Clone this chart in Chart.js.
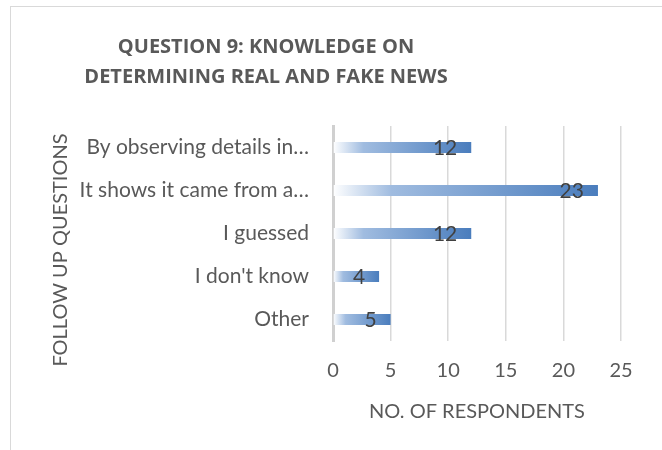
<!DOCTYPE html>
<html lang="en">
    <head>
        <meta charset="UTF-8" />
        <title>Question 9</title>
        <script src="https://cdn.jsdelivr.net/npm/chart.js@4"></script>
        <style>
            body { margin: 0; background: #fff; }
        </style>
    </head>
    <body>
        <canvas id="mychart" width="662" height="450"></canvas>
        <script>
            const categories = ["By observing details in…", "It shows it came from a…", "I guessed", "I don't know", "Other"];
            const respondents = [12, 23, 12, 4, 5];
            const xTicks = [0, 5, 10, 15, 20, 25];

            const titleLines = ["QUESTION 9: KNOWLEDGE ON", "DETERMINING REAL AND FAKE NEWS"];
            const yTitle = "FOLLOW UP QUESTIONS";
            const FONT = "Lato, sans-serif";

            const ctx = document.getElementById("mychart").getContext("2d");

            function barGradient(context)  {
                const chart = context.chart;
                const x = chart.scales.x;
                if (!x || context.dataIndex === undefined) return '#4a7dbd';
                const x0 = x.getPixelForValue(0);
                const x1 = x.getPixelForValue(respondents[context.dataIndex]);
                if (!isFinite(x0) || !isFinite(x1) || x1 === x0) return '#4a7dbd';
                const g = chart.ctx.createLinearGradient(x0, 0, x1, 0);
                g.addColorStop(0, '#ffffff');
                g.addColorStop(0.22, '#a0bce0');
                g.addColorStop(1, '#4a7dbd');
                return g;
            }

            // frame, title, y title and value labels drawn by hand, Excel style
            const decor = {
                id: 'decor',
                beforeDraw(chart)  {
                    const c = chart.ctx;
                    c.save();
                    c.strokeStyle = '#d9d9d9';
                    c.lineWidth = 1;
                    c.strokeRect(10.5, 6.5, 700, 500);
                    c.fillStyle = '#595959';
                    c.font = "bold 20px 'Open Sans', sans-serif";
                    c.textAlign = 'center';
                    c.textBaseline = 'middle';
                    titleLines.forEach((t, i) => c.fillText(t, 266, 47 + i * 30));

                    c.font = "20px " + FONT;
                    c.translate(61, 250);
                    c.rotate(-Math.PI / 2);
                    c.fillText(yTitle, 0, 0);
                    c.restore();
                },
                afterDatasetsDraw(chart)  {
                    const c = chart.ctx;
                    const meta = chart.getDatasetMeta(0);
                    c.save();
                    c.fillStyle = '#404040';
                    c.font = "21px " + FONT;
                    c.textAlign = 'right';
                    c.textBaseline = 'middle';
                    meta.data.forEach((bar, i) =>  {
                        c.fillText(respondents[i], bar.x - 14, bar.y + 1);
                    });
                    c.restore();
                }
            };

            new Chart(ctx, {
                type: 'bar',
                data: {
                    labels: categories,
                    datasets: [
                        {
                            label: "Respondents",
                            data: respondents,
                            backgroundColor: barGradient,
                            borderWidth: 0,
                            categoryPercentage: 1,
                            barPercentage: 0.26
                        }
                    ]
                },
                options: {
                    indexAxis: 'y',
                    responsive: false,
                    animation: false,
                    layout: { padding: { left: 40, top: 126, right: 41, bottom: 20 } },
                    plugins: {
                        legend: { display: false },
                        tooltip: { enabled: false }
                    },
                    scales: {
                        x: {
                            min: 0,
                            max: 25,
                            afterBuildTicks(s)  { s.ticks = xTicks.map(v => ({ value: v })); },
                            afterFit(s)  { s.height = 89; },
                            grid: { color: '#d9d9d9', lineWidth: 1.5, drawTicks: false },
                            border: { display: false },
                            ticks: { color: '#595959', font: { family: FONT, size: 20 }, padding: 18 },
                            title: {
                                display: true,
                                text: "NO. OF RESPONDENTS",
                                color: '#595959',
                                font: { family: FONT, size: 20 },
                                padding: { top: 4, bottom: 6 }
                            }
                        },
                        y: {
                            afterFit(s)  { s.width = 293; },
                            grid: { display: false, drawTicks: false },
                            border: { color: '#d0d0d0', width: 3 },
                            ticks: { color: '#595959', font: { family: FONT, size: 21 }, padding: 24 }
                        }
                    }
                },
                plugins: [decor]
            });
        </script>
    </body>
</html>
